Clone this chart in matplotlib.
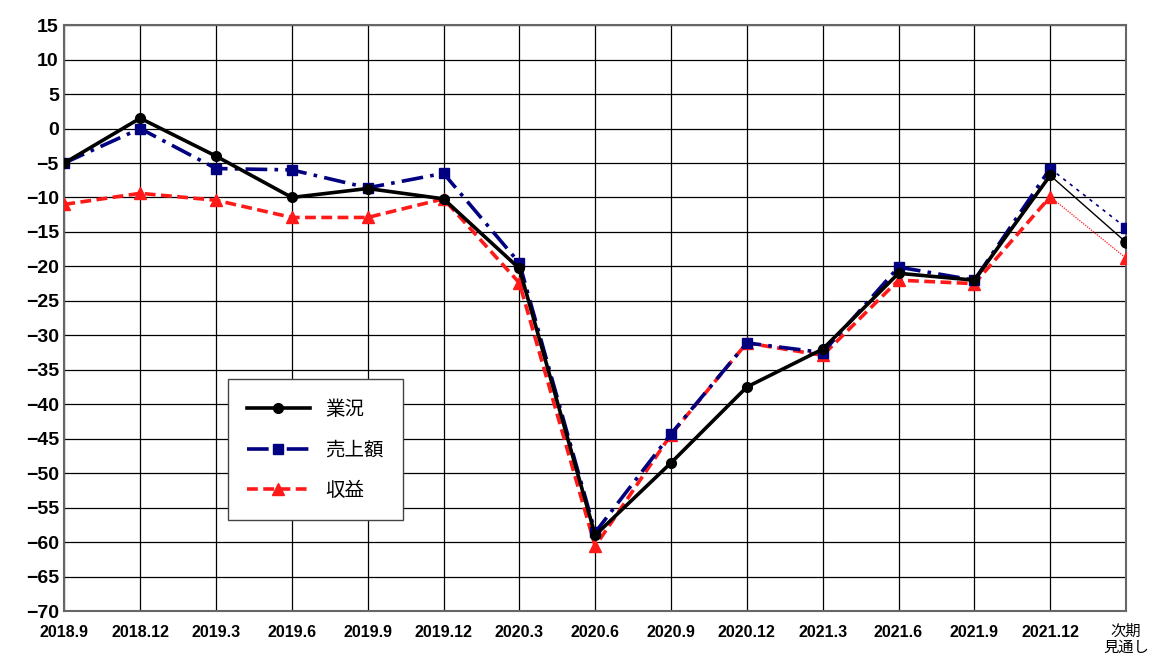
import matplotlib
matplotlib.use("Agg")
import matplotlib.pyplot as plt

plt.rcParams['font.family'] = ['Liberation Sans Narrow', 'Liberation Sans', 'Noto Sans CJK JP', 'DejaVu Sans']

periods = ['2018.9', '2018.12', '2019.3', '2019.6', '2019.9', '2019.12', '2020.3',
           '2020.6', '2020.9', '2020.12', '2021.3', '2021.6', '2021.9', '2021.12', '次期\n見通し']

business = [-5, 1.5, -4, -10, -8.7, -10.2, -20.3, -59, -48.5, -37.5, -32, -21, -22, -6.8, -16.5]
sales = [-5, 0, -5.8, -6, -8.6, -6.5, -19.5, -58.6, -44.3, -31.1, -32.5, -20.1, -22, -5.8, -14.4]
profit = [-11, -9.4, -10.4, -12.9, -12.9, -10.2, -22.4, -60.6, -44.4, -31.1, -32.9, -22, -22.5, -9.9, -18.8]

labels = ['業況', '売上額', '収益']

fig, ax = plt.subplots(figsize=(11.49, 6.62), dpi=100)
fig.subplots_adjust(left=0.056, right=0.98, top=0.962, bottom=0.077)

x = list(range(len(periods)))
n = len(periods) - 1  # last point is the forecast

ax.plot(x[:n], business[:n], color='black', lw=2.6, marker='o', ms=7, label=labels[0], zorder=5)
ax.plot(x[:n], sales[:n], color='#000080', lw=2.6, ls=(0, (6, 2, 1, 2)), marker='s', ms=6.5,
        label=labels[1], zorder=4)
ax.plot(x[:n], profit[:n], color='#ff1a1a', lw=2.6, ls=(0, (3, 1.5)), marker='^', ms=8,
        label=labels[2], zorder=3)

# forecast segment, thinner
ax.plot(x[n - 1:], business[n - 1:], color='black', lw=1.0, zorder=5)
ax.plot(x[n:], business[n:], color='black', marker='o', ms=8, ls='none', zorder=5)
ax.plot(x[n - 1:], sales[n - 1:], color='#000080', lw=1.2, ls=(0, (2, 3)), zorder=4)
ax.plot(x[n:], sales[n:], color='#000080', marker='s', ms=7, ls='none', zorder=4)
ax.plot(x[n - 1:], profit[n - 1:], color='#ff1a1a', lw=0.9, ls=(0, (1, 1)), zorder=3)
ax.plot(x[n:], profit[n:], color='#ff1a1a', marker='^', ms=9, ls='none', zorder=3)

ax.set_xlim(0, n)
ax.set_ylim(-70, 15)
ax.set_yticks(range(-70, 16, 5))
ax.set_xticks(x)
ax.set_xticklabels(periods)
ax.grid(True, color='black', lw=0.9)
ax.set_axisbelow(True)
ax.tick_params(axis='y', length=0, pad=4)
ax.tick_params(axis='x', length=0, pad=10)
for t in ax.get_yticklabels():
    t.set_fontsize(14)
    t.set_fontweight('bold')
for t in ax.get_xticklabels():
    t.set_fontsize(11.5)
    t.set_fontweight('bold')
ax.get_xticklabels()[-1].set_fontweight('normal')
ax.get_xticklabels()[-1].set_fontsize(11)
for s in ax.spines.values():
    s.set_color('#666666')
    s.set_linewidth(1.5)

leg = ax.legend(loc='lower left', bbox_to_anchor=(0.154, 0.155), borderaxespad=0, fancybox=False,
                edgecolor='#444444', framealpha=1, handlelength=3.2,
                labelspacing=1.0, borderpad=1.0, prop={'family': ['Noto Sans CJK JP'], 'size': 14})
leg.get_frame().set_linewidth(1.0)

fig.savefig('out.png', dpi=100)
